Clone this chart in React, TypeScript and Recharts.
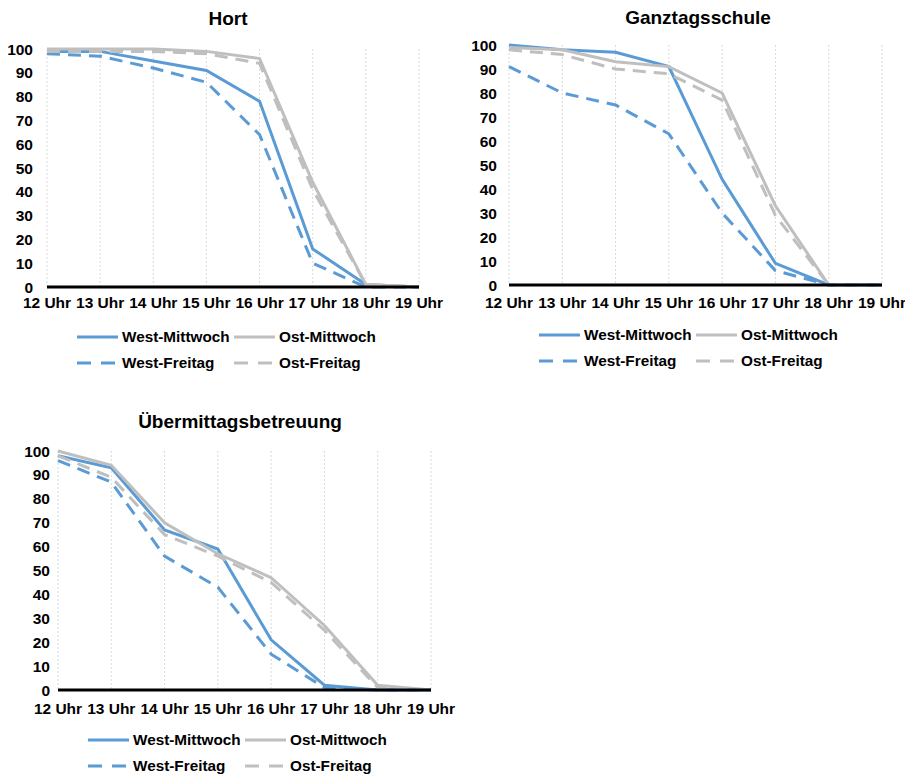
import React from 'react';
import { LineChart, Line, XAxis, YAxis, CartesianGrid } from 'recharts';

const hours = ['12 Uhr', '13 Uhr', '14 Uhr', '15 Uhr', '16 Uhr', '17 Uhr', '18 Uhr', '19 Uhr'];
const yTicks = [0, 10, 20, 30, 40, 50, 60, 70, 80, 90, 100];

// Hort
const hortWestMi = [99, 99, 95, 91, 78, 16, 1, 0];
const hortWestFr = [98, 97, 92, 86, 64, 10, 0, 0];
const hortOstMi = [100, 100, 100, 99, 96, 44, 1, 0];
const hortOstFr = [99, 99, 99, 98, 94, 41, 1, 0];

// Ganztagsschule
const gtsWestMi = [100, 98, 97, 91, 44, 9, 0, 0];
const gtsWestFr = [91, 80, 75, 63, 30, 6, 0, 0];
const gtsOstMi = [99, 98, 93, 91, 80, 33, 0, 0];
const gtsOstFr = [98, 96, 90, 88, 77, 29, 0, 0];

// Übermittagsbetreuung
const umbWestMi = [98, 93, 67, 59, 21, 2, 0, 0];
const umbWestFr = [96, 87, 56, 43, 15, 1, 0, 0];
const umbOstMi = [100, 94, 70, 57, 47, 27, 2, 0];
const umbOstFr = [98, 89, 65, 56, 45, 25, 1, 0];

const BLUE = '#5B9BD5';
const GRAY = '#BFBFBF';
const FONT = "'Liberation Sans', Arial, sans-serif";
const DASH = '13 8';

const series = [
  { key: 'westMi', name: 'West-Mittwoch', color: BLUE, dashed: false },
  { key: 'ostMi', name: 'Ost-Mittwoch', color: GRAY, dashed: false },
  { key: 'westFr', name: 'West-Freitag', color: BLUE, dashed: true },
  { key: 'ostFr', name: 'Ost-Freitag', color: GRAY, dashed: true },
];

const buildRows = (westMi: number[], westFr: number[], ostMi: number[], ostFr: number[]) =>
  hours.map((hour, i) => ({
    hour,
    westMi: westMi[i],
    westFr: westFr[i],
    ostMi: ostMi[i],
    ostFr: ostFr[i],
  }));

const tickStyle = { fill: '#000', fontSize: 15.5, fontWeight: 700, fontFamily: FONT };

interface PanelProps {
  left: number;
  top: number;
  width: number;
  height: number;
  margin: { top: number; right: number; left: number; bottom: number };
  yWidth: number;
  yGap: number;
  xGap: number;
  rows: Record<string, string | number>[];
  title: string;
  titleX: number;
  titleTop: number;
  legendX: number;
  legendY: number;
}

const LegendIcon = ({ color, dashed }: { color: string; dashed: boolean }) => (
  <svg width={41} height={10} style={{ display: 'block' }}>
    <line
      x1={0}
      y1={5}
      x2={dashed ? 38 : 41}
      y2={5}
      stroke={color}
      strokeWidth={3}
      strokeDasharray={dashed ? '14 10' : undefined}
    />
  </svg>
);

const LegendBox = ({ x, y }: { x: number; y: number }) => (
  <div
    style={{
      position: 'absolute',
      left: x,
      top: y - 13,
      width: 320,
      display: 'flex',
      flexWrap: 'wrap',
      fontFamily: FONT,
      fontWeight: 700,
      fontSize: 15.3,
      color: '#000',
    }}
  >
    {series.map((s) => (
      <div key={s.key} style={{ width: 157, height: 26, display: 'flex', alignItems: 'center' }}>
        <LegendIcon color={s.color} dashed={s.dashed} />
        <span style={{ marginLeft: 4, lineHeight: '16px', whiteSpace: 'nowrap' }}>{s.name}</span>
      </div>
    ))}
  </div>
);

const Panel = (p: PanelProps) => (
  <>
    <div
      style={{
        position: 'absolute',
        left: p.titleX - 150,
        top: p.titleTop,
        width: 300,
        textAlign: 'center',
        fontFamily: FONT,
        fontWeight: 700,
        fontSize: 19,
        lineHeight: '19px',
        color: '#000',
      }}
    >
      {p.title}
    </div>
    <div style={{ position: 'absolute', left: p.left, top: p.top }}>
      <LineChart width={p.width} height={p.height} data={p.rows} margin={p.margin}>
        <CartesianGrid horizontal={false} stroke="#D9D9D9" strokeDasharray="2 2" />
        <XAxis
          dataKey="hour"
          interval={0}
          height={30}
          tickSize={0}
          tickMargin={p.xGap}
          tick={tickStyle}
          axisLine={{ stroke: '#000', strokeWidth: 3 }}
          padding={{ left: 0, right: 0 }}
        />
        <YAxis
          domain={[0, 100]}
          ticks={yTicks}
          width={p.yWidth}
          tickSize={0}
          tickMargin={p.yGap}
          axisLine={false}
          tick={tickStyle}
          interval={0}
        />
        {series.map((s) => (
          <Line
            key={s.key}
            type="linear"
            dataKey={s.key}
            name={s.name}
            stroke={s.color}
            strokeWidth={3}
            strokeDasharray={s.dashed ? DASH : undefined}
            dot={false}
            activeDot={false}
            isAnimationActive={false}
          />
        ))}
      </LineChart>
    </div>
    <LegendBox x={p.legendX} y={p.legendY} />
  </>
);

export default function App() {
  return (
    <div style={{ position: 'absolute', left: 0, top: 0, width: 905, height: 774, background: '#fff' }}>
      <Panel
        left={0}
        top={0}
        width={452}
        height={320}
        margin={{ top: 49, right: 33, left: 0, bottom: 3 }}
        yWidth={47}
        yGap={14}
        xGap={10}
        rows={buildRows(hortWestMi, hortWestFr, hortOstMi, hortOstFr)}
        title="Hort"
        titleX={228}
        titleTop={9}
        legendX={77}
        legendY={337}
      />
      <Panel
        left={455}
        top={0}
        width={450}
        height={320}
        margin={{ top: 45, right: 23, left: 0, bottom: 5 }}
        yWidth={54}
        yGap={12}
        xGap={12}
        rows={buildRows(gtsWestMi, gtsWestFr, gtsOstMi, gtsOstFr)}
        title="Ganztagsschule"
        titleX={698}
        titleTop={8}
        legendX={539}
        legendY={335}
      />
      <Panel
        left={0}
        top={400}
        width={470}
        height={330}
        margin={{ top: 51, right: 39, left: 0, bottom: 10 }}
        yWidth={58}
        yGap={8}
        xGap={13}
        rows={buildRows(umbWestMi, umbWestFr, umbOstMi, umbOstFr)}
        title="Übermittagsbetreuung"
        titleX={240}
        titleTop={412}
        legendX={88}
        legendY={740}
      />
    </div>
  );
}
